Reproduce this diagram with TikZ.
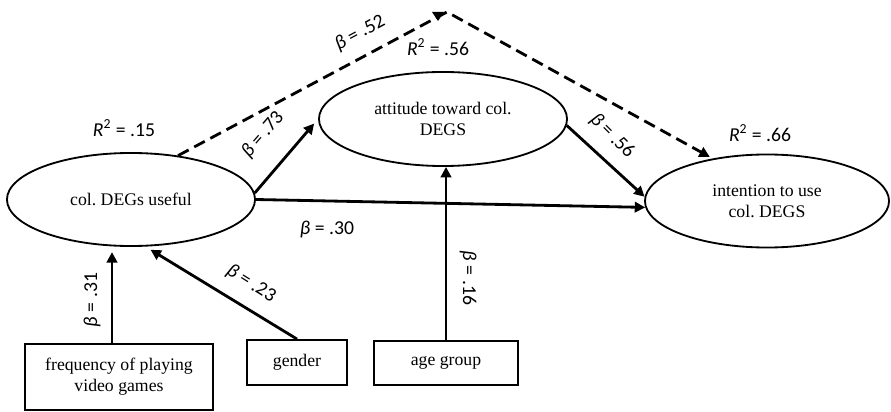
\documentclass[tikz,border=0pt]{standalone}
\usepackage{fontspec}
\setmainfont{Liberation Serif}
\newfontfamily\labelfont{Carlito}
\usepackage{tikz}
\usetikzlibrary{shapes.geometric,arrows.meta,positioning,calc}
\frenchspacing

\begin{document}
\begin{tikzpicture}[x=0.025cm, y=0.025cm,
    construct/.style={ellipse, draw, line width=1.3pt, inner sep=0pt, align=center, font=\fontsize{12.6}{15}\selectfont},
    observed/.style={rectangle, draw, line width=1.3pt, inner sep=0pt, align=center, font=\fontsize{12.6}{15}\selectfont},
    path arrow/.style={line width=2pt, -{Triangle[length=0.26cm, width=0.26cm]}},
    dash arrow/.style={path arrow, dash pattern=on 8.5pt off 4.5pt},
    coef/.style={font=\labelfont\fontsize{14}{16}\selectfont, inner sep=0pt}]
  \useasboundingbox (0,0) rectangle (891,-412);
  % constructs
  \node[construct, minimum width=6.2cm, minimum height=2.325cm] (useful) at (131,-199.5) {col. DEGs useful};
  \node[construct, minimum width=6.2cm, minimum height=2.35cm] (attitude) at (443,-119) {attitude toward col.\\DEGS};
  \node[construct, minimum width=6.1cm, minimum height=2.325cm] (intention) at (767,-201) {intention to use\\col. DEGS};
  % observed variables
  \node[observed, minimum width=4.7cm, minimum height=1.65cm] (freq) at (119,-377) {frequency of playing\\video games};
  \node[observed, minimum width=2.5cm, minimum height=1.125cm] (gender) at (297,-362.5) {gender};
  \node[observed, minimum width=3.6cm, minimum height=1.1cm] (age) at (446,-363) {age group};
  % paths
  \coordinate (bend) at (447,-12);
  \draw[dash arrow, shorten >=0.08cm] (useful.43) -- (bend) -- (intention.142);
  \fill (bend) ++(-15,0) -- ++(12,0) -- ++(-6,-9) -- cycle;
  \draw[path arrow, shorten >=0.15cm] (useful.3) -- (attitude.west);
  \draw[path arrow] (useful.east) -- (intention.183);
  \draw[path arrow] (attitude.-3) -- (intention.178);
  \draw[path arrow] (age.north) -- (age.north |- attitude.south);
  \draw[path arrow, shorten >=0.13cm] ([xshift=-0.175cm]freq.north) -- ([xshift=-0.175cm]freq.north |- useful.south);
  \draw[path arrow, shorten >=0.15cm] (gender.north) -- (useful.-73);
  % coefficients
  \node[coef] (r15) at (124,-128) {\textit{R}\textsuperscript{2} = .15};
  \node[coef] (r56) at (438,-47) {\textit{R}\textsuperscript{2} = .56};
  \node[coef] (r66) at (760,-133) {\textit{R}\textsuperscript{2} = .66};
  \node[coef, rotate=28] (b52) at (360,-33) {\textit{β} = .52};
  \node[coef, rotate=49] (b73) at (263,-135) {\textit{β} = .73};
  \node[coef, rotate=-45] (b56) at (612,-136) {\textit{β} = .56};
  \node[coef] (b30) at (327,-229) {\textit{β} = .30};
  \node[coef, rotate=90] (b31) at (92,-300) {\textit{β} = .31};
  \node[coef, rotate=-32] (b23) at (251,-284) {\textit{β} = .23};
  \node[coef, rotate=-90] (b16) at (468,-278) {\textit{β} = .16};
\end{tikzpicture}
\end{document}
